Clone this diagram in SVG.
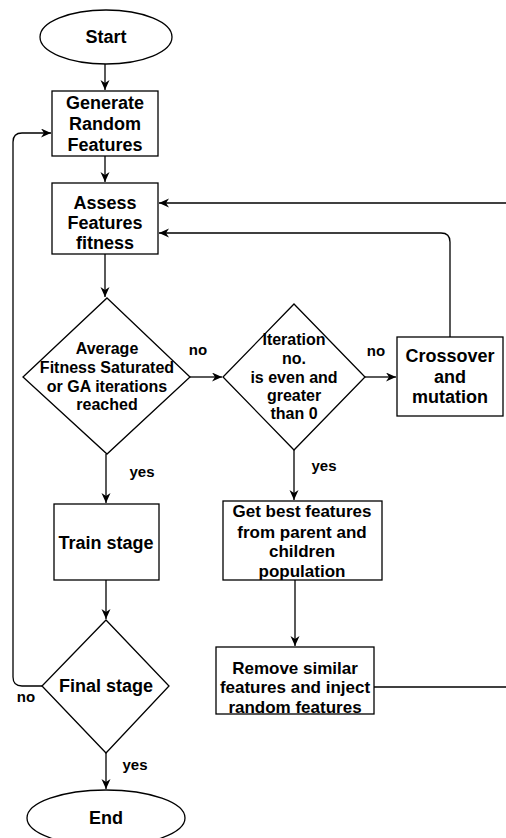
<svg xmlns="http://www.w3.org/2000/svg" width="506" height="838" viewBox="0 0 506 838">
<style>
.s{fill:#fff;stroke:#000;stroke-width:1.3}
.c{fill:none;stroke:#000;stroke-width:1.3}
text{font-family:"Liberation Sans",Arial,sans-serif;font-weight:bold;fill:#000;text-anchor:middle}
.t18{font-size:18px}
.t17{font-size:17px}
.t16{font-size:16px}
.lb{font-size:15px}
</style>
<defs>
<marker id="a" markerUnits="userSpaceOnUse" markerWidth="11" markerHeight="10" refX="10" refY="4.5" orient="auto">
<path d="M0,0 L10,4.5 L0,9 L3,4.5 z" fill="#000"/>
</marker>
</defs>
<rect width="506" height="838" fill="#fff"/>
<g id="connectors">
<path class="c" d="M105,64 L105,90" marker-end="url(#a)"/>
<path class="c" d="M105,156 L105,182" marker-end="url(#a)"/>
<path class="c" d="M105,254 L105,297" marker-end="url(#a)"/>
<path class="c" d="M506,203 L159,203" marker-end="url(#a)"/>
<path class="c" d="M450,337 L450,242 Q450,233 441,233 L159,233" marker-end="url(#a)"/>
<path class="c" d="M190,377 L222,377" marker-end="url(#a)"/>
<path class="c" d="M365,377 L396,377" marker-end="url(#a)"/>
<path class="c" d="M106,454 L106,503" marker-end="url(#a)"/>
<path class="c" d="M294,450 L294,500" marker-end="url(#a)"/>
<path class="c" d="M295,580 L295,646" marker-end="url(#a)"/>
<path class="c" d="M374,687 L506,687"/>
<path class="c" d="M106,580 L106,619" marker-end="url(#a)"/>
<path class="c" d="M42,686 L22,686 Q13,686 13,677 L13,142 Q13,133 22,133 L51,133" marker-end="url(#a)"/>
<path class="c" d="M106,753 L106,789" marker-end="url(#a)"/>
<text class="lb" x="198" y="355">no</text>
<text class="lb" x="376" y="356">no</text>
<text class="lb" x="142" y="477">yes</text>
<text class="lb" x="324" y="471">yes</text>
<text class="lb" x="26" y="702">no</text>
<text class="lb" x="135" y="770">yes</text>
</g>
<g id="start">
<ellipse class="s" cx="106" cy="37" rx="66" ry="27"/>
<text class="t18" x="106" y="43">Start</text>
</g>
<g id="generate">
<rect class="s" x="52" y="91" width="106" height="65"/>
<text class="t18" x="105" y="109">Generate</text>
<text class="t18" x="105" y="130">Random</text>
<text class="t18" x="105" y="151">Features</text>
</g>
<g id="assess">
<rect class="s" x="52" y="183" width="106" height="71"/>
<text class="t18" x="105" y="209">Assess</text>
<text class="t18" x="105" y="229">Features</text>
<text class="t18" x="105" y="249">fitness</text>
</g>
<g id="saturated">
<polygon class="s" points="107,298 190,377 107,454 23,377"/>
<text class="t16" x="107" y="354">Average</text>
<text class="t16" x="107" y="373">Fitness Saturated</text>
<text class="t16" x="107" y="392">or GA iterations</text>
<text class="t16" x="107" y="410">reached</text>
</g>
<g id="iteration">
<polygon class="s" points="294,304 365,377 294,450 223,377"/>
<text class="t16" x="294" y="345">Iteration</text>
<text class="t16" x="294" y="364">no.</text>
<text class="t16" x="294" y="383">is even and</text>
<text class="t16" x="294" y="401">greater</text>
<text class="t16" x="294" y="419">than 0</text>
</g>
<g id="crossover">
<rect class="s" x="397" y="337" width="106" height="79"/>
<text class="t18" x="450" y="362">Crossover</text>
<text class="t18" x="450" y="383">and</text>
<text class="t18" x="450" y="403">mutation</text>
</g>
<g id="train">
<rect class="s" x="54" y="504" width="105" height="76"/>
<text class="t18" x="106" y="549">Train stage</text>
</g>
<g id="getbest">
<rect class="s" x="223" y="501" width="159" height="79"/>
<text class="t17" x="302" y="517">Get best features</text>
<text class="t17" x="302" y="538">from parent and</text>
<text class="t17" x="302" y="557">children</text>
<text class="t17" x="302" y="577">population</text>
</g>
<g id="remove">
<rect class="s" x="216" y="647" width="158" height="67"/>
<text class="t17" x="295" y="674">Remove similar</text>
<text class="t17" x="295" y="693">features and inject</text>
<text class="t17" x="295" y="713">random features</text>
</g>
<g id="final">
<polygon class="s" points="106,620 169,686 106,753 42,686"/>
<text class="t18" x="106" y="692">Final stage</text>
</g>
<g id="end">
<ellipse class="s" cx="106" cy="818" rx="79" ry="28"/>
<text class="t18" x="106" y="824">End</text>
</g>
</svg>
